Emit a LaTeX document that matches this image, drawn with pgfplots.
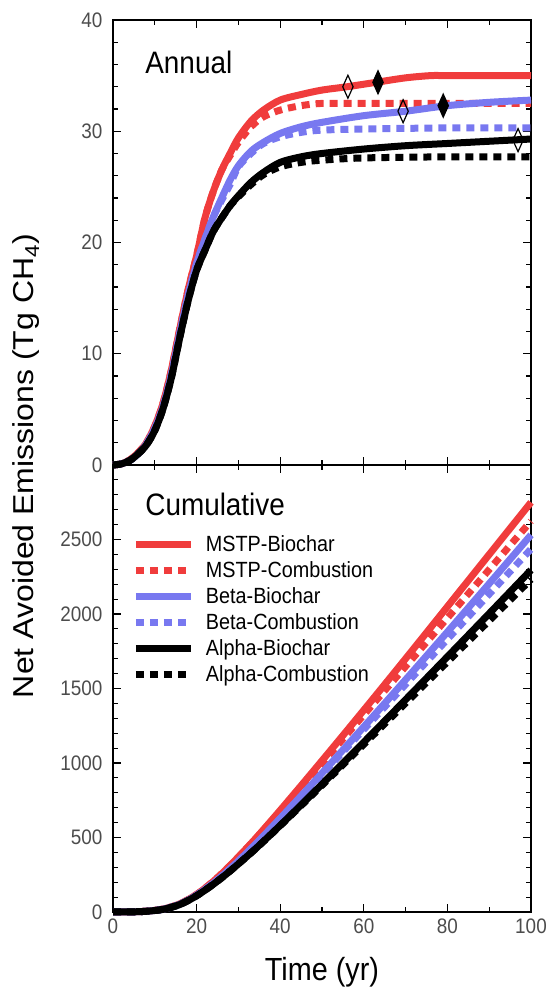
\documentclass[border=0pt]{standalone}
\usepackage{fontspec}
\setmainfont[FakeStretch=0.9]{Liberation Sans}
\newfontfamily\labelfont{Liberation Sans}
\usepackage{graphicx}
\usepackage{pgfplots}
\usepackage{pgfplotstable}
\pgfplotsset{compat=1.18}

\definecolor{mstp}{RGB}{240,60,60}
\definecolor{betac}{RGB}{120,120,240}

% Annual net avoided emissions (Tg CH4 per year)
\pgfplotstableread{
x y
0 0
2 0.1
4 0.45
6 1.1
8 2.0
10 3.5
12 5.6
14 8.6
16 12.3
18 15.8
20 18.8
22 22.2
24 24.6
26 26.5
28 28.0
30 29.4
33 30.9
36 31.9
40 32.8
45 33.3
50 33.7
56 34.0
63 34.4
70 34.8
76 35.0
80 35.0
90 35.0
100 35.0
}\annMSTPbio
\pgfplotstableread{
x y
0 0
2 0.1
4 0.45
6 1.1
8 2.0
10 3.5
12 5.6
14 8.6
16 12.3
18 15.8
20 18.8
22 22.2
24 24.6
26 26.5
28 27.8
30 29.0
33 30.4
36 31.3
40 31.9
45 32.3
50 32.5
60 32.5
70 32.5
80 32.5
90 32.5
100 32.5
}\annMSTPcomb
\pgfplotstableread{
x y
0 0
2 0.1
4 0.4
6 1.0
8 1.9
10 3.3
12 5.3
14 8.2
16 11.9
18 15.3
20 18.1
22 20.3
24 22.3
26 24.0
28 25.6
30 26.9
33 28.2
36 29.0
40 29.8
45 30.4
50 30.8
60 31.4
70 31.8
80 32.3
90 32.6
100 32.8
}\annBetabio
\pgfplotstableread{
x y
0 0
2 0.1
4 0.4
6 1.0
8 1.9
10 3.3
12 5.3
14 8.2
16 11.9
18 15.3
20 18.1
22 20.3
24 22.3
26 23.8
28 25.2
30 26.8
33 28.0
36 28.9
40 29.5
45 29.9
50 30.1
60 30.2
80 30.3
100 30.3
}\annBetacomb
\pgfplotstableread{
x y
0 0
2 0.1
4 0.4
6 1.0
8 1.8
10 3.1
12 5.1
14 7.9
16 11.5
18 14.8
20 17.5
22 19.3
24 21.0
26 22.2
28 23.3
30 24.2
33 25.4
36 26.3
40 27.2
45 27.7
50 28.0
60 28.4
70 28.7
80 28.9
90 29.1
100 29.3
}\annAlphabio
\pgfplotstableread{
x y
0 0
2 0.1
4 0.4
6 1.0
8 1.8
10 3.1
12 5.1
14 7.9
16 11.5
18 14.8
20 17.5
22 19.3
24 21.0
26 22.2
28 23.3
30 24.1
33 25.2
36 26.1
40 26.8
45 27.2
50 27.4
60 27.6
80 27.7
100 27.7
}\annAlphacomb

% Cumulative net avoided emissions (Tg CH4)
\pgfplotstableread{
x y
0 0
4 0.65
8 5.3
12 19.9
16 55.0
20 117.7
24 205.5
28 311.1
33 459.0
36 553.2
40 682.6
45 847.9
50 1015.4
56 1218.5
63 1457.9
70 1700.1
76 1909.5
80 2049.5
90 2399.5
100 2749.5
}\cumMSTPbio
\pgfplotstableread{
x y
0 0
4 0.65
8 5.3
12 19.9
16 55.0
20 117.7
24 205.5
28 310.9
33 456.8
36 549.4
40 675.8
45 836.3
50 998.3
60 1323.3
70 1648.3
80 1973.3
90 2298.3
100 2623.3
}\cumMSTPcomb
\pgfplotstableread{
x y
0 0
4 0.6
8 4.9
12 18.7
16 52.3
20 112.9
24 193.9
28 289.8
33 425.0
36 510.8
40 628.4
45 778.9
50 931.9
60 1242.9
70 1558.9
80 1879.4
90 2203.9
100 2530.9
}\cumBetabio
\pgfplotstableread{
x y
0 0
4 0.6
8 4.9
12 18.7
16 52.3
20 112.9
24 193.9
28 289.0
33 423.2
36 508.6
40 625.4
45 773.9
50 923.9
60 1225.4
70 1527.6
80 1830.4
90 2133.4
100 2436.4
}\cumBetacomb
\pgfplotstableread{
x y
0 0
4 0.6
8 4.8
12 17.9
16 50.3
20 108.9
24 186.0
28 274.7
33 396.6
36 474.2
40 581.2
45 718.4
50 857.7
60 1139.7
70 1425.2
80 1713.2
90 2003.2
100 2295.2
}\cumAlphabio
\pgfplotstableread{
x y
0 0
4 0.6
8 4.8
12 17.9
16 50.3
20 108.9
24 186.0
28 274.7
33 396.1
36 473.0
40 578.8
45 713.8
50 850.3
60 1125.3
70 1401.6
80 1678.3
90 1955.3
100 2232.3
}\cumAlphacomb

\pgfplotsset{
  panel/.style={
    scale only axis, width=418pt,
    xmin=0, xmax=100,
    xtick={0,20,...,100}, minor x tick num=1,
    xtick pos=both, ytick pos=both,
    tick align=inside,
    major tick length=8pt, minor tick length=5pt,
    axis line style={line width=1.3pt},
    every tick/.style={line width=1.1pt, black},
    tick label style={font=\fontsize{21}{25}\selectfont, text=black!70},
    yticklabel style={xshift=-7pt},
    xticklabel style={yshift=-3pt},
    /pgf/number format/assume math mode=true,
    /pgf/number format/1000 sep={},
    clip=false,
  },
  bio/.style={line width=7pt, smooth, tension=0.5},
  comb/.style={line width=7pt, smooth, tension=0.5, dash pattern=on 8pt off 6pt},
}

\begin{document}
\begin{tikzpicture}
\useasboundingbox (0pt,0pt) rectangle (550pt,992pt);

% Annual panel
\begin{axis}[panel, at={(113pt,527pt)}, anchor=south west, height=445pt,
  ymin=0, ymax=40, ytick={0,10,...,40}, minor y tick num=4,
  xticklabels={}]
  \addplot[bio, mstp] table {\annMSTPbio};
  \addplot[comb, mstp] table {\annMSTPcomb};
  \addplot[bio, betac] table {\annBetabio};
  \addplot[comb, betac] table {\annBetacomb};
  \addplot[bio, black] table {\annAlphabio};
  \addplot[comb, black] table {\annAlphacomb};
  \addplot[only marks, mark=diamond, mark size=11.5pt,
    mark options={xscale=0.6, line width=1.2pt, draw=black, fill=white}]
    coordinates {(56.2,34.0) (69.4,31.8) (96.9,29.2)};
  \addplot[only marks, mark=diamond*, mark size=11.5pt,
    mark options={xscale=0.6, line width=1.2pt, draw=black, fill=black}]
    coordinates {(63.4,34.4) (79.0,32.3)};
  \node[anchor=base west, font=\fontsize{31}{36}\selectfont]
    at (rel axis cs:0.069,0.879) {Annual};
\end{axis}

% Cumulative panel
\begin{axis}[panel, at={(113pt,80pt)}, anchor=south west, height=447pt,
  ymin=0, ymax=3000, ytick={0,500,...,3000},
  yticklabels={0,500,1000,1500,2000,2500,{}}, minor y tick num=4,
  legend style={at={(rel axis cs:0.046,0.845)}, anchor=north west,
    draw=none, fill=none, inner sep=0pt, row sep=5.5pt,
    font=\fontsize{22}{26}\selectfont,
    nodes={inner sep=1.5pt},
    /tikz/every odd column/.append style={column sep=10pt}},
  legend cell align=left,
  legend image code/.code={\draw[#1] (0pt,0pt) -- (55pt,0pt);}]
  \addplot[bio, mstp] table {\cumMSTPbio};
  \addlegendentry{MSTP-Biochar}
  \addplot[comb, mstp] table {\cumMSTPcomb};
  \addlegendentry{MSTP-Combustion}
  \addplot[bio, betac] table {\cumBetabio};
  \addlegendentry{Beta-Biochar}
  \addplot[comb, betac] table {\cumBetacomb};
  \addlegendentry{Beta-Combustion}
  \addplot[bio, black] table {\cumAlphabio};
  \addlegendentry{Alpha-Biochar}
  \addplot[comb, black] table {\cumAlphacomb};
  \addlegendentry{Alpha-Combustion}
  \node[anchor=base west, font=\fontsize{31}{36}\selectfont]
    at (rel axis cs:0.069,0.888) {Cumulative};
\end{axis}

\node[rotate=90, anchor=base, font=\labelfont\fontsize{32}{38}\selectfont]
  at (33pt,526pt) {\scalebox{1}[0.9]{Net Avoided Emissions (Tg CH\textsubscript{4})}};
\node[anchor=base, font=\fontsize{32}{38}\selectfont] at (322pt,12pt) {Time (yr)};
\end{tikzpicture}
\end{document}
